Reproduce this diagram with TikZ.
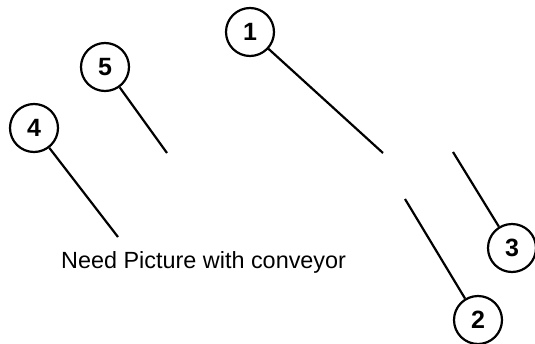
\documentclass[tikz,border=0pt]{standalone}
\usepackage{fontspec}
\setmainfont{Liberation Sans}
\usepackage{tikz}
\usetikzlibrary{positioning}

\begin{document}
\begin{tikzpicture}[
      x=1pt, y=-1pt,
      callout/.style={circle, draw, line width=2.2pt, minimum size=48pt, inner sep=0pt,
        font=\fontsize{25}{28}\selectfont\bfseries},
      leader/.style={line width=2.2pt}
    ]
      \useasboundingbox (0,0) rectangle (535,343);

      % numbered callouts
      \node[callout] (c1) at (250,32) {1};
      \node[callout] (c2) at (478,320) {2};
      \node[callout] (c3) at (512,248) {3};
      \node[callout] (c4) at (34,128) {4};
      \node[callout] (c5) at (105,67) {5};

      % free ends of the leaders
      \coordinate (e1) at (383,153);
      \coordinate (e2) at (405,199);
      \coordinate (e3) at (453,152);
      \coordinate (e4) at (118,237);
      \coordinate (e5) at (167,153);

      \draw[leader] (c1) -- (e1);
      \draw[leader] (c2) -- (e2);
      \draw[leader] (c3) -- (e3);
      \draw[leader] (c4) -- (e4);
      \draw[leader] (c5) -- (e5);

      \node[anchor=base west, inner sep=0pt, font=\fontsize{23.4}{26}\selectfont] (note) at (61,268)
        {Need Picture with conveyor};
    \end{tikzpicture}
\end{document}
